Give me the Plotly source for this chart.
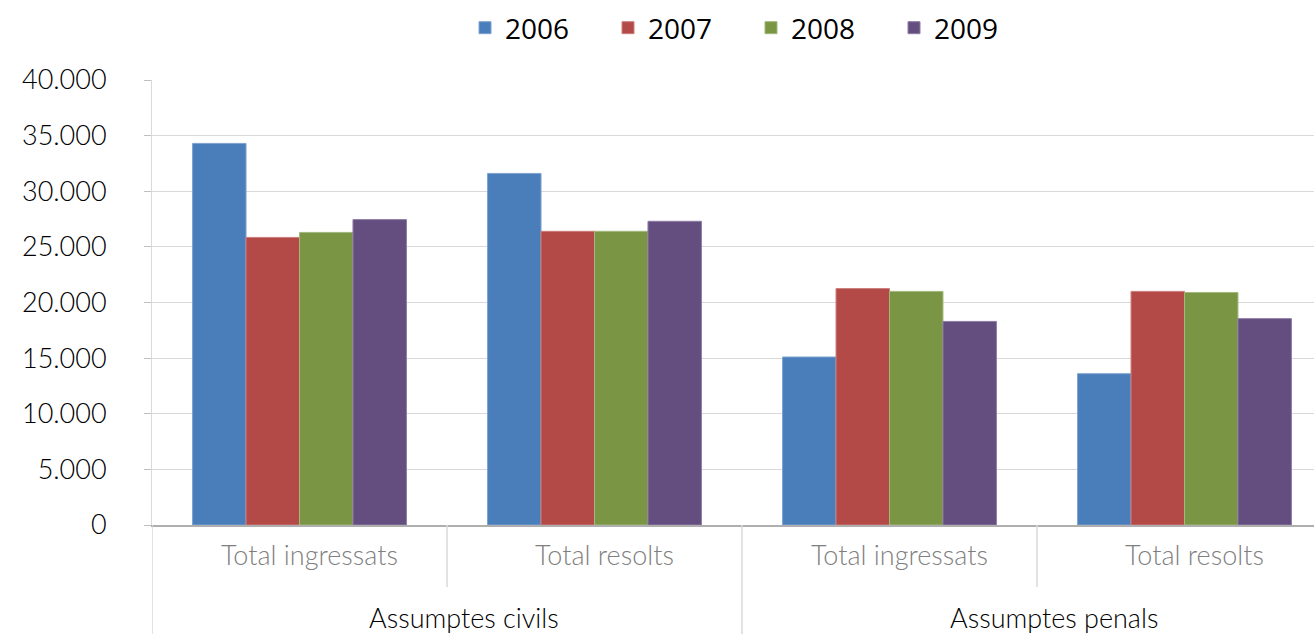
import plotly.graph_objects as go

categories = ["civ_ing", "civ_res", "pen_ing", "pen_res"]
inner_labels = ["Total ingressats", "Total resolts", "Total ingressats", "Total resolts"]
outer_labels = ["Assumptes civils", "Assumptes penals"]
years = ["2006", "2007", "2008", "2009"]

v2006 = [34300, 31600, 15100, 13600]
v2007 = [25850, 26400, 21250, 21000]
v2008 = [26300, 26400, 21000, 20900]
v2009 = [27450, 27300, 18300, 18550]

colors = ["#4A7EBB", "#B34A47", "#7A9544", "#644E7F"]
edges = ["#7EA2D0", "#CC7E7C", "#A2B87C", "#8E7CA6"]
tickvals_y = [0, 5000, 10000, 15000, 20000, 25000, 30000, 35000, 40000]
ticktext_y = ["0", "5.000", "10.000", "15.000", "20.000", "25.000", "30.000", "35.000", "40.000"]

FONT = "Lato"
fig = go.Figure()
for name, vals, c, e in zip(years, [v2006, v2007, v2008, v2009], colors, edges):
    fig.add_trace(go.Bar(x=categories, y=vals, name=name, marker=dict(color=c, line=dict(color=e, width=1))))

fig.update_layout(
    width=1314, height=634,
    margin=dict(l=152, r=0, t=80, b=109),
    plot_bgcolor="white", paper_bgcolor="white",
    barmode="group", bargap=0.275, bargroupgap=0,
    font=dict(family=FONT, size=27, color="#000000"),
    legend=dict(orientation="h", x=0.5155, xanchor="center",
                y=1 - 28 / 634, yanchor="middle", yref="container",
                font=dict(family="Open Sans", size=28, color="#000000"),
                itemwidth=30, traceorder="normal", entrywidth=98, entrywidthmode="pixels"),
    showlegend=True,
)

fig.update_yaxes(range=[0, 40000], tickvals=tickvals_y, ticktext=ticktext_y,
                 showgrid=True, gridcolor="#D9D9D9", gridwidth=1,
                 ticks="outside", ticklen=7, tickcolor="#BFBFBF",
                 showline=True, linecolor="#D9D9D9", linewidth=1,
                 ticklabelstandoff=32, zeroline=False, automargin=False,
                 tickfont=dict(family=FONT, size=27, color="#000000", weight=300))
fig.update_xaxes(type="category", tickvals=categories, ticktext=inner_labels,
                 range=[-0.5, 3.439], showline=True, linecolor="#AFAFAF", linewidth=2,
                 ticks="", showgrid=False, automargin=False,
                 tickfont=dict(family=FONT, size=27, color="#7F7F7F", weight=300),
                 ticklabelstandoff=6, ticklabelshift=10)

# category dividers
for i, full in enumerate([True, False, True, False]):
    fig.add_shape(type="line", xref="x", yref="paper", x0=i - 0.5, x1=i - 0.5,
                  y0=0, y1=(-109 / 445) if full else (-62 / 445),
                  line=dict(color="#D9D9D9", width=1.5))

for j, lab in enumerate(outer_labels):
    fig.add_annotation(xref="x", yref="paper", x=2 * j + 0.5, y=-92 / 445, xshift=17,
                       text=lab, showarrow=False, yanchor="middle",
                       font=dict(family=FONT, size=27, color="#000000", weight=300))

fig.write_html("out.html", config={"displayModeBar": False},
               post_script="document.body.style.margin='0';document.body.style.overflow='hidden';window.dispatchEvent(new Event('resize'));")
